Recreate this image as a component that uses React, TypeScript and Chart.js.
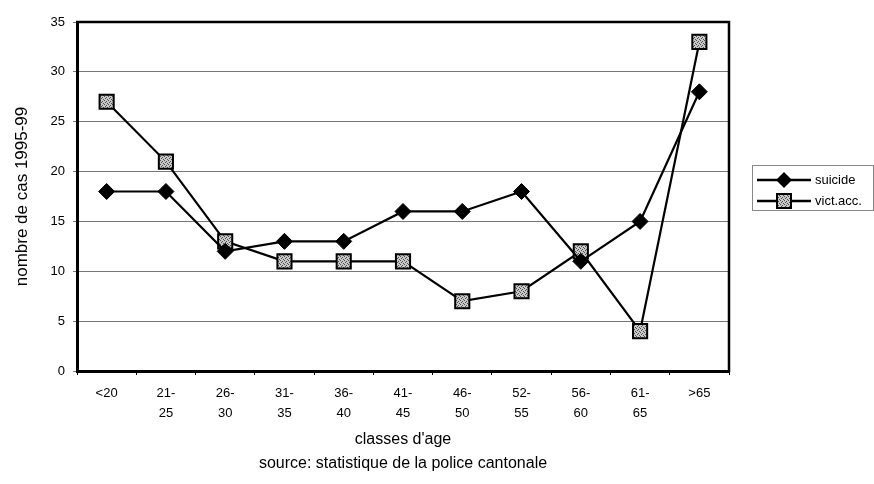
import React, { useEffect, useRef } from "react";
import { Chart, registerables } from "chart.js";

Chart.register(...registerables);

const categories: string[][] = [
  ["<20"],
  ["21-", "25"],
  ["26-", "30"],
  ["31-", "35"],
  ["36-", "40"],
  ["41-", "45"],
  ["46-", "50"],
  ["52-", "55"],
  ["56-", "60"],
  ["61-", "65"],
  [">65"],
];
const suicide = [18, 18, 12, 13, 13, 16, 16, 18, 11, 15, 28];
const victAcc = [27, 21, 13, 11, 11, 11, 7, 8, 12, 4, 33];
const seriesNames = ["suicide", "vict.acc."];
const yMin = 0;
const yMax = 35;
const yStep = 5;
const yTitle = "nombre de cas 1995-99";
const xTitle = ["classes d'age", "source: statistique de la police cantonale"];

const FONT = "'Liberation Sans', Arial, sans-serif";

function makePattern(): CanvasPattern | string {
  const c = document.createElement("canvas");
  c.width = 4;
  c.height = 4;
  const g = c.getContext("2d");
  if (!g) return "#a0a0a0";
  g.fillStyle = "#c8c8c8";
  g.fillRect(0, 0, 4, 4);
  g.fillStyle = "#505050";
  g.fillRect(0, 0, 1, 1);
  g.fillRect(2, 1, 1, 1);
  g.fillRect(1, 2, 1, 1);
  g.fillRect(3, 3, 1, 1);
  const p = g.createPattern(c, "repeat");
  return p || "#a0a0a0";
}

const framePlugin = {
  id: "frameAndLegend",
  afterDraw(chart: any) {
    const ctx = chart.ctx as CanvasRenderingContext2D;
    const { left, right, top, bottom } = chart.chartArea;
    ctx.save();
    ctx.strokeStyle = "#000";
    ctx.lineWidth = 2.5;
    ctx.beginPath();
    ctx.moveTo(left - 1, top);
    ctx.lineTo(right, top);
    ctx.lineTo(right, bottom + 1);
    ctx.stroke();

    // legend box
    const bx = 752.5, by = 165.5, bw = 121, bh = 45;
    ctx.strokeStyle = "#888";
    ctx.lineWidth = 1;
    ctx.strokeRect(bx, by, bw, bh);

    chart.data.datasets.forEach((ds: any, i: number) => {
      const y = 180 + i * 21;
      ctx.strokeStyle = "#000";
      ctx.lineWidth = 2.5;
      ctx.beginPath();
      ctx.moveTo(757, y);
      ctx.lineTo(811, y);
      ctx.stroke();
      const mx = 784;
      if (i === 0) {
        ctx.fillStyle = "#000";
        ctx.beginPath();
        ctx.moveTo(mx, y - 8);
        ctx.lineTo(mx + 8, y);
        ctx.lineTo(mx, y + 8);
        ctx.lineTo(mx - 8, y);
        ctx.closePath();
        ctx.fill();
      } else {
        ctx.fillStyle = ds.pointBackgroundColor;
        ctx.fillRect(mx - 7, y - 7, 14, 14);
        ctx.strokeStyle = "#000";
        ctx.lineWidth = 2;
        ctx.strokeRect(mx - 7, y - 7, 14, 14);
      }
      ctx.fillStyle = "#000";
      ctx.font = `13px ${FONT}`;
      ctx.textAlign = "left";
      ctx.textBaseline = "middle";
      ctx.fillText(ds.label, 815, y);
    });
    ctx.restore();
  },
};

export default function App() {
  const ref = useRef<HTMLCanvasElement | null>(null);

  useEffect(() => {
    document.body.style.margin = "0";
    const canvas = ref.current;
    if (!canvas) return;
    const pattern = makePattern();
    const chart = new Chart(canvas, {
      type: "line",
      data: {
        labels: categories as any,
        datasets: [
          {
            label: seriesNames[0],
            data: suicide,
            borderColor: "#000",
            borderWidth: 2.2,
            backgroundColor: "#000",
            pointStyle: "rectRot",
            pointRadius: 8,
            pointBackgroundColor: "#000",
            pointBorderColor: "#000",
            pointBorderWidth: 1,
            tension: 0,
          },
          {
            label: seriesNames[1],
            data: victAcc,
            borderColor: "#000",
            borderWidth: 2.2,
            backgroundColor: pattern as any,
            pointStyle: "rect",
            pointRadius: 10,
            pointBackgroundColor: pattern as any,
            pointBorderColor: "#000",
            pointBorderWidth: 2,
            tension: 0,
          },
        ],
      },
      options: {
        responsive: false,
        animation: false,
        events: [],
        layout: { padding: { left: 0, right: 145, top: 22, bottom: 0 } },
        plugins: {
          legend: { display: false },
          tooltip: { enabled: false },
        },
        scales: {
          x: {
            type: "category",
            offset: true,
            grid: {
              display: true,
              drawOnChartArea: false,
              drawTicks: true,
              tickLength: 4,
              offset: true,
              color: "#000",
            },
            border: { display: true, color: "#000", width: 3 },
            ticks: {
              color: "#000",
              font: { family: FONT, size: 13, lineHeight: 1.54 },
              padding: 8,
              maxRotation: 0,
              autoSkip: false,
            },
            title: {
              display: true,
              text: xTitle,
              color: "#000",
              font: { family: FONT, size: 16, lineHeight: 1.5 },
              padding: { top: 0, bottom: 8 },
            },
            afterFit(scale: any) {
              scale.height = 113;
            },
          },
          y: {
            min: yMin,
            max: yMax,
            ticks: {
              stepSize: yStep,
              color: "#000",
              font: { family: FONT, size: 13 },
              padding: 8,
            },
            grid: {
              color: "#777",
              lineWidth: 1,
              drawTicks: true,
              tickLength: 4,
            },
            border: { display: true, color: "#000", width: 3 },
            title: {
              display: true,
              text: yTitle,
              color: "#000",
              font: { family: FONT, size: 17, lineHeight: 1.2 },
              padding: { top: 12, bottom: 0 },
            },
            afterFit(scale: any) {
              scale.width = 77;
            },
          },
        },
      },
      plugins: [framePlugin],
    });
    return () => chart.destroy();
  }, []);

  return (
    <div style={{ position: "absolute", left: 0, top: 0, width: 874, height: 484 }}>
      <canvas ref={ref} width={874} height={484} style={{ width: 874, height: 484 }} />
    </div>
  );
}
